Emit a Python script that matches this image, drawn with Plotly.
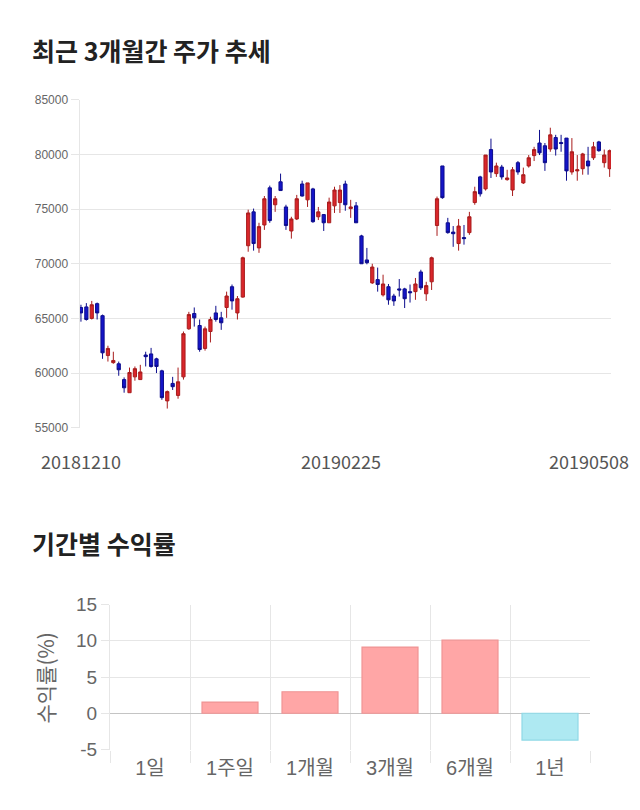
import plotly.graph_objects as go

# ---------------- data ----------------
dates = [
    "20181210","20181211","20181212","20181213","20181214","20181217","20181218","20181219","20181220","20181221",
    "20181224","20181226","20181227","20181228",
    "20190102","20190103","20190104","20190107","20190108","20190109","20190110","20190111","20190114","20190115",
    "20190116","20190117","20190118","20190121","20190122","20190123","20190124","20190125","20190128","20190129",
    "20190130","20190131",
    "20190201","20190207","20190208","20190211","20190212","20190213","20190214","20190215","20190218","20190219",
    "20190220","20190221","20190222","20190225","20190226","20190227","20190228",
    "20190304","20190305","20190306","20190307","20190308","20190311","20190312","20190313","20190314","20190315",
    "20190318","20190319","20190320","20190321","20190322","20190325","20190326","20190327","20190328","20190329",
    "20190401","20190402","20190403","20190404","20190405","20190408","20190409","20190410","20190411","20190412",
    "20190415","20190416","20190417","20190418","20190419","20190422","20190423","20190424","20190425","20190426",
    "20190429","20190430",
    "20190502","20190503","20190507","20190508",
]

opens = [66000,66050,65000,66350,65250,61600,60950,60850,59400,58200,59650,59400,61650,61750,61300,60200,57450,59050,57950,59650,
         64050,65450,64350,62250,63800,65500,65050,66000,67900,65500,66950,71650,74750,71450,73550,76950,75400,77500,75200,73000,
         74100,77300,75850,76850,74300,74500,73750,75300,75600,77300,75050,75300,72550,70350,68250,68550,67150,67900,67050,67700,
         67700,67450,67450,69250,67250,68350,73500,78950,73750,72900,71850,72400,72850,75600,77950,76850,80450,78250,78850,77700,
         76750,79250,77400,78950,79900,81050,80800,80500,81550,81100,81500,78400,78500,78700,79400,79700,81150,79250,78700]
highs = [66250,66400,66600,66450,65350,62500,61950,61050,59600,60500,60600,60750,61950,62300,61400,60300,58400,59650,60500,63800,
         65600,66000,64900,64250,65150,66150,65600,67450,68100,67050,70650,74950,75050,73750,76200,77150,76200,78250,75400,74300,
         76300,77600,77400,76950,75200,74550,76050,77050,77200,77600,75850,75650,72650,71450,70000,69650,69000,68150,67250,68600,
         67800,68100,68700,69450,68350,70650,76150,78950,74200,73450,74100,73550,74750,77050,78050,79950,81450,79250,79050,78600,
         78850,79400,78800,79950,80700,82250,81050,82450,81800,81800,81500,81500,79950,80150,80700,81150,81250,80450,80450]
lows = [64700,64800,64900,64900,61300,61050,60850,59750,58200,58200,59300,59400,60600,60500,60000,57550,56750,58450,57650,59400,
        63950,64250,61950,62050,62800,64700,63950,65050,65800,64900,66900,71100,71200,71000,73100,73750,74750,76700,73100,72300,
        74000,76150,75200,73750,74000,73000,73750,74650,74650,74850,74200,73750,70000,69950,68150,67450,67000,66250,66150,67000,
        65950,66450,66700,67600,66600,67600,72550,75950,72750,71550,71200,71750,72650,75400,76150,76700,77850,77950,77700,77600,
        76200,78150,77300,78800,79400,79950,78500,80250,79900,80250,77600,78150,77600,78150,78150,79500,80250,78800,77950]
closes = [65500,64900,66250,65500,61850,62250,61150,60300,58650,60050,60400,60100,61500,60600,60600,57750,58300,58750,59200,63600,
          65350,65050,62150,64050,64900,64900,64600,67050,66600,66800,70550,74650,71850,73400,75950,73950,75950,76700,73500,74100,
          75950,76200,77400,73850,74750,73750,75650,76750,76750,75400,75200,73750,70000,70100,69700,68100,68150,66700,66600,67600,
          66800,67350,68150,67800,68000,70550,75950,76050,72850,72750,73450,72300,74300,76600,76400,79950,78400,78950,77950,77850,
          78600,78400,78150,79700,80450,80150,79250,81800,80500,81000,78500,80250,78600,80050,78950,80700,80350,79950,80350]

price_ticks = [55000, 60000, 65000, 70000, 75000, 80000, 85000]
date_labels = ["20181210", "20190225", "20190508"]

periods = ["1일", "1주일", "1개월", "3개월", "6개월", "1년"]
returns = [0.0, 1.55, 2.97, 9.13, 10.09, -3.70]
return_ticks = [-5, 0, 5, 10, 15]

title_top = "최근 3개월간 주가 추세"
title_bottom = "기간별 수익률"
ytitle_bottom = "수익률(%)"

# ---------------- figure ----------------
W, H = 640, 810
def px_x(x):
    return x / W
def px_y(y):
    # vertical calibration of the captured page
    yy = (y - 10.1) / 0.9746
    return 1 - yy / H

GRID = "#e6e6e6"
TICK = "#666666"
CJK = "Noto Sans CJK KR"

idx = list(range(len(dates)))

fig = go.Figure()
fig.add_trace(go.Candlestick(
    x=idx, open=opens, high=highs, low=lows, close=closes,
    increasing=dict(fillcolor="#d9262b", line=dict(color="#a81c1c", width=1)),
    decreasing=dict(fillcolor="#1414c8", line=dict(color="#0c0c8c", width=1)),
    whiskerwidth=0, showlegend=False, hoverinfo="skip",
    xaxis="x", yaxis="y",
))

bar_fill = ["#ffa6a6" if v >= 0 else "#aee9f2" for v in returns]
bar_line = ["#f09494" if v >= 0 else "#8fd9e6" for v in returns]
bar_lw = [0 if v == 0 else 1.2 for v in returns]
fig.add_trace(go.Bar(
    x=periods, y=returns, width=0.7,
    marker=dict(color=bar_fill, line=dict(color=bar_line, width=bar_lw)),
    showlegend=False, hoverinfo="skip",
    xaxis="x2", yaxis="y2",
))

n = len(dates)
fig.update_layout(
    width=W, height=H, margin=dict(l=0, r=0, t=0, b=0),
    paper_bgcolor="white", plot_bgcolor="white",
    boxgap=0.15,
    font=dict(family=CJK, color=TICK),
    xaxis=dict(domain=[px_x(79.5), px_x(611)], range=[-0.27, n - 1 + 0.25],
               showticklabels=False, showgrid=False, zeroline=False,
               rangeslider=dict(visible=False), fixedrange=True,
               anchor="y"),
    yaxis=dict(domain=[px_y(428), px_y(100)], range=[55000, 85000],
               tickvals=price_ticks, ticktext=[str(v) for v in price_ticks],
               showgrid=True, gridcolor=GRID, gridwidth=1, zeroline=False,
               showline=True, linecolor=GRID, linewidth=1,
               ticks="outside", ticklen=8, tickcolor=GRID,
               tickfont=dict(family="Liberation Sans, Arial", size=12, color=TICK),
               anchor="x"),
    xaxis2=dict(domain=[px_x(110), px_x(590)], type="category",
                showgrid=True, gridcolor=GRID, tickson="boundaries",
                ticks="outside", ticklen=12, tickcolor=GRID,
                ticklabelstandoff=4,
                showline=False, zeroline=False,
                tickfont=dict(family="Liberation Sans, " + CJK, size=20, color=TICK),
                anchor="y2"),
    yaxis2=dict(domain=[px_y(750), px_y(605)], range=[-5, 15],
                tickvals=return_ticks, ticktext=[str(v) for v in return_ticks],
                showgrid=True, gridcolor=GRID, zeroline=True, zerolinecolor="#c4c4c4",
                zerolinewidth=1, showline=True, linecolor=GRID,
                ticks="outside", ticklen=8, tickcolor=GRID,
                tickfont=dict(family="Liberation Sans, Arial", size=19, color=TICK),
                anchor="x2"),
)

annotations = [
    dict(text="<b>" + title_top + "</b>", x=px_x(30), y=px_y(50), xref="paper", yref="paper",
         xanchor="left", yanchor="middle", showarrow=False,
         font=dict(family=CJK, size=25, color="#222222")),
    dict(text="<b>" + title_bottom + "</b>", x=px_x(30), y=px_y(543), xref="paper", yref="paper",
         xanchor="left", yanchor="middle", showarrow=False,
         font=dict(family=CJK, size=25, color="#222222")),
    dict(text=ytitle_bottom, x=px_x(45), y=px_y(678), xref="paper", yref="paper",
         xanchor="center", yanchor="middle", textangle=-90, showarrow=False,
         font=dict(family=CJK, size=21, color=TICK)),
]
label_pos = [dates.index(d) for d in date_labels]
shifts = [0, -4, -21]
for d, p, s in zip(date_labels, label_pos, shifts):
    annotations.append(dict(text=d, x=p, y=px_y(461), xref="x", yref="paper",
                            xanchor="center", yanchor="middle", xshift=s, showarrow=False,
                            font=dict(family=CJK, size=18, color="#555555")))
fig.update_layout(annotations=annotations)

fig.write_html("out.html")
